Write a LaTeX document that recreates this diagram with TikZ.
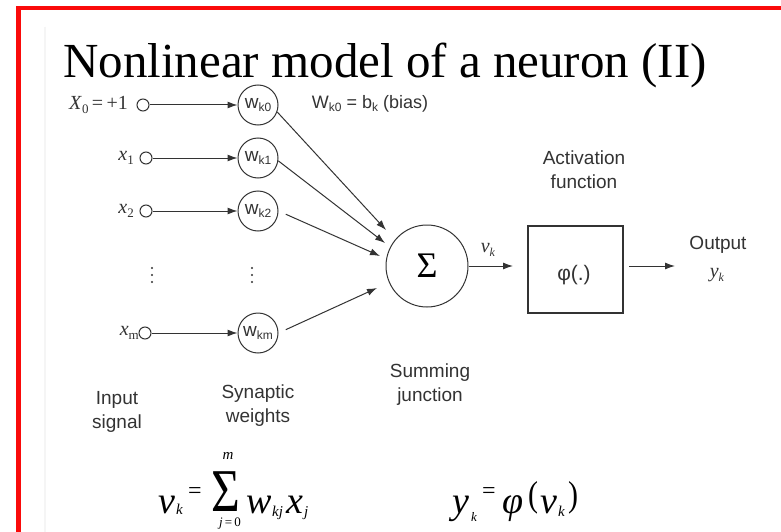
\documentclass[tikz,border=0pt]{standalone}
\usepackage{fontspec}
\usepackage{graphicx}
\setmainfont{Liberation Sans}
\newfontfamily\serif{Liberation Serif}
\usetikzlibrary{arrows.meta}
\newcommand\fsz[2]{\fontsize{#1}{#2}\selectfont}
\newcommand\wl[1]{{\fsz{19}{19}w\raisebox{-0.35ex}{\fsz{12}{12}k#1}}}
\newcommand\fbig[1]{{\serif\itshape\fsz{38}{38}#1}}
\newcommand\fsm[1]{{\serif\itshape\fsz{15}{15}#1}}
\definecolor{ink}{gray}{0.2}
\definecolor{slidered}{RGB}{250,10,10}
\begin{document}
\begin{tikzpicture}[x=1pt,y=-1pt,
  inp/.style={circle,draw=ink,minimum size=12pt,inner sep=0pt,line width=1pt},
  wgt/.style={circle,draw=ink,minimum size=40pt,inner sep=0pt,line width=1pt,text=ink},
  arr/.style={draw=ink,-{Latex[length=10pt,width=7pt]},line width=1pt},
  lbl/.style={text=ink,font=\fsz{19}{24},align=center,inner sep=0pt},
  ser/.style={text=ink,font=\serif\fsz{20}{20},inner sep=0pt},
  fpart/.style={anchor=base west,inner sep=0pt,text=black},
]
\useasboundingbox (0,0) rectangle (781,532);
\fill[white] (0,0) rectangle (781,532);
% slide frame
\draw[gray!8,line width=2pt] (44.5,27) -- (44.5,532);
\draw[slidered,line width=4.5pt] (18.5,532) -- (18.5,8) -- (781,8);
% title
\node[anchor=base west,inner sep=0pt] (title) at (63,78) {\serif\fsz{49}{49}Nonlinear model of a neuron (II)};
% inputs
\node[inp] (i0) at (143,105) {};
\node[inp] (i1) at (146,158) {};
\node[inp] (i2) at (146,211) {};
\node[inp] (im) at (145,333) {};
\node[ser,anchor=east] (l0) at (128,105) {\textit{X}\raisebox{-0.4ex}{\fsz{13}{13}0}\,=\,+1};
\node[ser,anchor=east] (l1) at (134,158) {\textit{x}\raisebox{-0.4ex}{\fsz{13}{13}1}};
\node[ser,anchor=east] (l2) at (134,211) {\textit{x}\raisebox{-0.4ex}{\fsz{13}{13}2}};
\node[ser,anchor=east] (lm) at (139,333) {\textit{x}\raisebox{-0.4ex}{\fsz{13}{13}m}};
% weights
\node[wgt] (w0) at (258,105) {\wl{0}};
\node[wgt] (w1) at (258,158) {\wl{1}};
\node[wgt] (w2) at (258,211) {\wl{2}};
\node[wgt] (wm) at (258,333) {\wl{m}};
\foreach \a/\b in {i0/w0,i1/w1,i2/w2,im/wm} \draw[arr] (\a) -- (\b);
% vertical dots
\foreach \x in {152,252} \foreach \y in {268,275,282} \fill[ink] (\x,\y) circle (1.1pt);
% bias label
\node[text=ink,font=\fsz{18}{18},inner sep=0pt] (bias) at (370,104) {W\raisebox{-0.35ex}{\fsz{12}{12}k0} = b\raisebox{-0.35ex}{\fsz{12}{12}k} (bias)};
% summing junction
\node[circle,draw=ink,minimum size=82pt,inner sep=0pt,line width=1pt] (sum) at (427,266) {\serif\fsz{36}{36}Σ};
\coordinate (t0) at (386,230);
\coordinate (t1) at (385,243);
\coordinate (t2) at (380,256);
\coordinate (t3) at (377,288);
\draw[arr] (w0.-20) -- (t0);
\draw[arr] (w1.-8) -- (t1);
\draw[arr,shorten <=8pt] (w2.east) -- (t2);
\draw[arr,shorten <=8pt] (wm.east) -- (t3);
% activation
\coordinate (bi) at (513,266);
\draw[arr] (sum) -- (bi);
\node[ser] (vk) at (488,250) {\textit{v}\raisebox{-0.4ex}{\fsz{12}{12}\textit{k}}};
\node[draw=ink,line width=1.2pt,minimum width=95pt,minimum height=87pt,inner sep=0pt] (act) at (575.5,269.5) {};
\node[text=ink,font=\fsz{21}{21},inner sep=0pt] (phi) at (574,275) {φ(.)};
\coordinate (bo) at (629,266);
\coordinate (ot) at (675,266);
\draw[arr] (bo) -- (ot);
\node[lbl] (actl) at (584,170) {Activation\\function};
\node[lbl] (outl) at (718,245) {Output};
\node[ser] (yk) at (717,275) {\textit{y}\raisebox{-0.4ex}{\fsz{12}{12}\textit{k}}};
\node[lbl] (suml) at (430,385) {Summing\\junction};
\node[lbl] (inl) at (117,412) {Input\\signal};
\node[lbl] (wl) at (258,406) {Synaptic\\weights};
% formula 1
\node[fpart] (fv) at (158,513) {\fbig{v}};
\node[fpart] (fk1) at (176,514) {\fsm{k}};
\node[fpart] (feq1) at (188,498) {{\serif\fsz{24}{24}=}};
\node[fpart] (fsig) at (211,511) {\scalebox{1.3}[1.6]{\serif\fsz{38}{38}Σ}};
\node[text=black,inner sep=0pt] (fm) at (228,456) {\fsm{m}};
\node[text=black,inner sep=0pt] (fj) at (230,524) {{\serif\fsz{13}{13}\textit{j}\,=\,0}};
\node[fpart] (fw) at (246,513) {\fbig{w}};
\node[fpart] (fkj) at (272,516) {\fsm{kj}};
\node[fpart] (fx) at (286,513) {\fbig{x}};
\node[fpart] (fj2) at (304,516) {\fsm{j}};
% formula 2
\node[fpart] (fy) at (452,513) {\fbig{y}};
\node[fpart] (fk2) at (471,521) {{\serif\itshape\fsz{13}{13}k}};
\node[fpart] (feq2) at (482,498) {{\serif\fsz{24}{24}=}};
\node[fpart] (fphi) at (502,513) {\fbig{φ}};
\node[fpart] (flp) at (528,506) {\scalebox{1}[1.2]{\serif\fsz{30}{30}(}};
\node[fpart] (fv2) at (540,513) {\fbig{v}};
\node[fpart] (fk3) at (558,516) {\fsm{k}};
\node[fpart] (frp) at (568,506) {\scalebox{1}[1.2]{\serif\fsz{30}{30})}};
\end{tikzpicture}
\end{document}
